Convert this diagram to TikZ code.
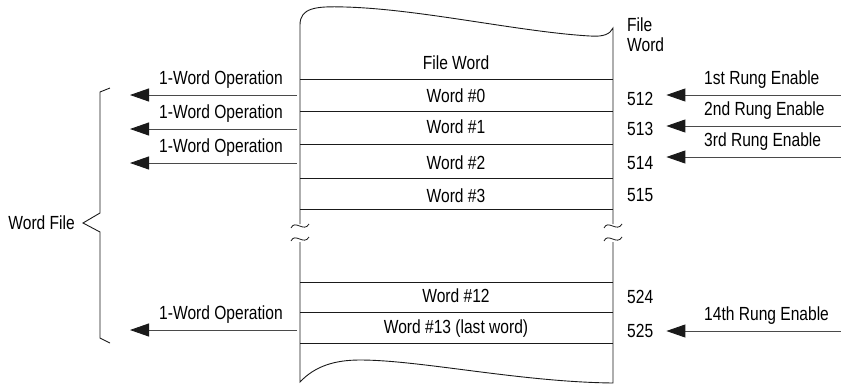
\documentclass[tikz,border=0pt]{standalone}
\usepackage{fontspec}
\setmainfont{Liberation Sans}[FakeStretch=0.82]
\usepackage{tikz}
\usetikzlibrary{arrows.meta}
\definecolor{inkmain}{HTML}{1A1A1A}
\definecolor{inkgray}{HTML}{4A4A4A}
\tikzset{every node/.append style={font=\fontsize{19}{21}\selectfont,inner sep=0pt}}

\begin{document}
\begin{tikzpicture}[>={Triangle[length=19pt,width=13pt,color=inkmain]},x=1pt,y=-1pt,
    wordline/.style={inkmain,line width=.9pt},
    feedarrow/.style={->,inkgray,line width=.9pt},
    breakmark/.style={inkmain,line width=.8pt}]
  \useasboundingbox (0,0) rectangle (841,386);
  % torn sheet
  \draw[wordline] (300,224) -- (300,25) .. controls (300,8) and (315,6) .. (345,7)
    .. controls (420,9) and (520,32) .. (590,36) .. controls (604,37) and (610,34) .. (613,28)
    -- (613,224);
  \draw[wordline] (300,242) -- (300,382) .. controls (315,366) and (335,360) .. (360,360)
    .. controls (420,360) and (520,382) .. (613,383) -- (613,242);
  \foreach \x in {300,613} {
    \draw[breakmark] (\x-9,228) .. controls (\x-5,219) and (\x+4,233) .. (\x+9,224);
    \draw[breakmark] (\x-9,241) .. controls (\x-5,232) and (\x+4,246) .. (\x+9,237);
  }
  \foreach \y in {79,111,144,178,209,282,312,343}
    \draw[wordline] (300,\y) -- (613,\y);
  % words in the file
  \foreach \n/\y/\txt in {hd/63/File Word,w0/96/Word \#0,w1/127/Word \#1,w2/163/Word \#2,
      w3/196/Word \#3,w12/296/Word \#12,w13/329/Word \#13 (last word)}
    \node (\n) at (456,\y) {\txt};
  \node[anchor=north west,align=left,font=\fontsize{19}{20}\selectfont] (addr) at (627,18) {File\\Word};
  \foreach \n/\y in {512/99,513/129,514/163,515/195,524/297,525/331}
    \node[anchor=west] (a\n) at (627,\y) {\n};
  % rung enables
  \foreach \n/\y/\txt in {512/95/1st,513/126/2nd,514/157/3rd,525/331/14th} {
    \coordinate (rin\n) at (841,\y);
    \node[anchor=south west] (rl\n) at (704,\y-6) {\txt{} Rung Enable};
    \draw[feedarrow] (rin\n) -- (rin\n -| a\n.east) [shorten >=13pt];
  }
  % operations
  \foreach \n/\y in {0/95,1/129,2/163,13/330} {
    \coordinate (lout\n) at (297,\y);
    \coordinate (lend\n) at (130,\y);
    \node (lo\n) at (221,\y-15) {1-Word Operation};
    \draw[feedarrow] (lout\n) -- (lend\n);
  }
  % brace
  \draw[wordline] (110,88) -- (100,92) -- (100,213) -- (83,223) -- (100,232) -- (100,338) -- (110,343);
  \node[anchor=east] (wfile) at (75,223) {Word File};
\end{tikzpicture}
\end{document}
